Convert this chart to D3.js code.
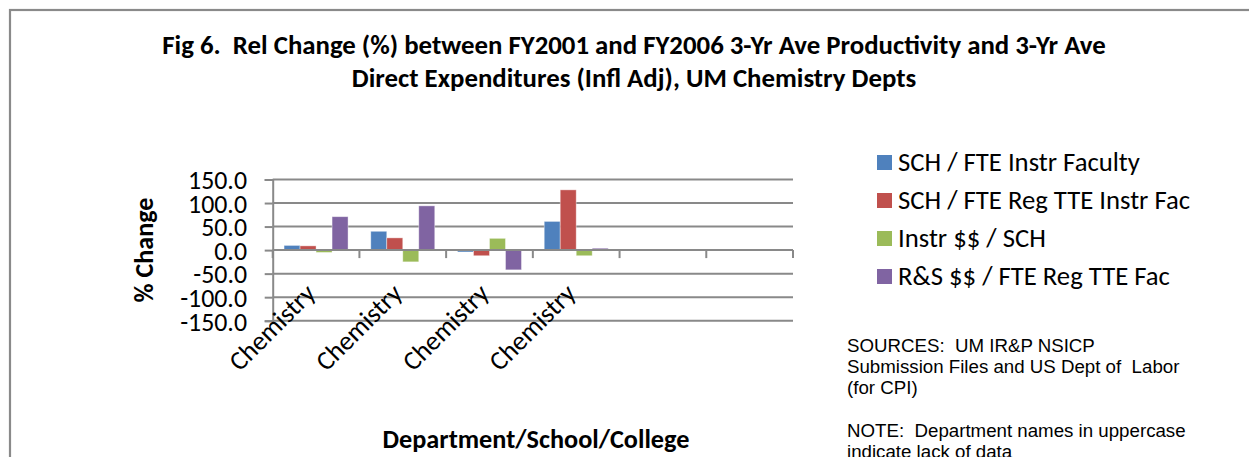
<!DOCTYPE html>
<html>
<head>
<meta charset="utf-8">
<script src="https://cdn.jsdelivr.net/npm/d3@7"></script>
<style>
  html, body { margin: 0; padding: 0; background: #fff; overflow: hidden; }
  svg { display: block; }
</style>
</head>
<body>
<script>
// ---- Data ----
const categories = ["Chemistry", "Chemistry", "Chemistry", "Chemistry", "", ""];
const seriesNames = ["SCH / FTE Instr Faculty", "SCH / FTE Reg TTE Instr Fac", "Instr $$ / SCH", "R&S $$ / FTE Reg TTE Fac"];
const schPerFteInstr = [10, 40, -4, 61];
const schPerFteRegTte = [9, 26, -12, 128];
const instrPerSch = [-5, -25, 25, -12];
const rsPerFteRegTte = [71, 94, -42, 4];
const yTicks = [150, 100, 50, 0, -50, -100, -150];
const titleLines = ["Fig 6.  Rel Change (%) between FY2001 and FY2006 3-Yr Ave Productivity and 3-Yr Ave",
                    "Direct Expenditures (Infl Adj), UM Chemistry Depts"];
const yAxisTitle = "% Change";
const xAxisTitle = "Department/School/College";
const noteLines = ["SOURCES:  UM IR&P NSICP", "Submission Files and US Dept of  Labor", "(for CPI)", "",
                   "NOTE:  Department names in uppercase", "indicate lack of data"];

const seriesValues = [schPerFteInstr, schPerFteRegTte, instrPerSch, rsPerFteRegTte];
const colors = ["#4F81BD", "#C0504D", "#9BBB59", "#8064A2"];

const W = 1249, H = 457;
const svg = d3.select("body").append("svg").attr("width", W).attr("height", H);

const calibri = "Carlito, Lato, 'Open Sans', sans-serif";
const arial = "'Liberation Sans', Arial, sans-serif";

function fitWidth(sel, target) {
  const node = sel.node();
  const fs = parseFloat(sel.attr("font-size"));
  const w = node.getComputedTextLength();
  if (w > 0) sel.attr("font-size", fs * target / w);
  return parseFloat(sel.attr("font-size"));
}

// Outer frame
svg.append("rect").attr("x", 10).attr("y", 10).attr("width", 1400).attr("height", 600)
  .attr("fill", "none").attr("stroke", "#8a8a8a").attr("stroke-width", 2.2);

// Title
const t1 = svg.append("text").attr("x", 634).attr("y", 54).attr("text-anchor", "middle")
  .attr("font-family", calibri).attr("font-weight", "bold").attr("font-size", 20)
  .style("white-space", "pre").attr("fill", "#000").text(titleLines[0]);
const tfs = fitWidth(t1, 944);
svg.append("text").attr("x", 634).attr("y", 86.5).attr("text-anchor", "middle")
  .attr("font-family", calibri).attr("font-weight", "bold").attr("font-size", tfs)
  .style("white-space", "pre").attr("fill", "#000").text(titleLines[1]);

// Scales
const plotLeft = 272.7, plotRight = 793;
const x = d3.scaleBand().domain(d3.range(categories.length)).range([plotLeft, plotRight]).paddingInner(0).paddingOuter(0);
const xs = d3.scaleBand().domain(d3.range(seriesNames.length)).range([0, x.bandwidth()]).paddingInner(0).paddingOuter(0.71);
const y = d3.scaleLinear().domain([-150, 150]).range([320.7, 179.5]);

const gridColor = "#898989";

// Gridlines
svg.append("g").selectAll("line").data(yTicks).join("line")
  .attr("x1", plotLeft).attr("x2", plotRight)
  .attr("y1", d => y(d)).attr("y2", d => y(d))
  .attr("stroke", gridColor).attr("stroke-width", 2);

// Y axis
const fmt = d => d3.format(".1f")(d).replace("\u2212", "-");
const yAxis = d3.axisLeft(y).tickValues(yTicks).tickSize(8).tickPadding(18).tickFormat(fmt);
const gy = svg.append("g").attr("transform", `translate(${plotLeft},0)`).call(yAxis);
gy.select(".domain").attr("stroke", gridColor).attr("stroke-width", 2);
gy.selectAll(".tick line").attr("stroke", gridColor).attr("stroke-width", 2);
gy.selectAll(".tick text").attr("font-family", calibri).attr("font-size", 22).attr("fill", "#000")
  .attr("dy", "0.36em");
let tickFs = 22;
{
  const tt = gy.selectAll(".tick text").filter(d => d === 150);
  const w = tt.node().getComputedTextLength();
  tickFs = 22 * 59 / w;
  gy.selectAll(".tick text").attr("font-size", tickFs);
}
gy.selectAll(".tick text").attr("x", 247 - plotLeft);

// Category axis at zero
const xAxis = d3.axisBottom(x).tickValues([]).tickSize(0);
const gx = svg.append("g").attr("transform", `translate(0,${y(0)})`).call(xAxis);
gx.select(".domain").remove();
const tickPos = d3.range(categories.length + 1).map(i => plotLeft + i * x.step());
gx.selectAll("line.ct").data(tickPos).join("line").attr("class", "ct")
  .attr("x1", d => d).attr("x2", d => d).attr("y1", 0).attr("y2", 8)
  .attr("stroke", gridColor).attr("stroke-width", 2);

// Bars
const gBars = svg.append("g");
seriesValues.forEach((vals, s) => {
  gBars.append("g").selectAll("rect").data(vals).join("rect")
    .attr("x", (d, i) => x(i) + xs(s))
    .attr("width", xs.bandwidth())
    .attr("y", d => y(Math.max(0, d)))
    .attr("height", d => Math.abs(y(d) - y(0)))
    .attr("fill", colors[s])
    .attr("stroke", "#ffffff").attr("stroke-opacity", 0.5).attr("stroke-width", 0.8);
});

// Zero line on top
svg.append("line").attr("x1", plotLeft).attr("x2", plotRight).attr("y1", y(0)).attr("y2", y(0))
  .attr("stroke", gridColor).attr("stroke-width", 2);

// Category labels
svg.append("g").selectAll("text").data(categories).join("text")
  .attr("transform", (d, i) => `translate(${x(i) + x.bandwidth() / 2 + 1},${295}) rotate(-45)`)
  .attr("text-anchor", "end").attr("font-family", calibri).attr("font-size", tickFs * 1.03)
  .attr("fill", "#000").text(d => d);

// Y axis title
const yt = svg.append("text").attr("transform", "translate(153,250) rotate(-90)")
  .attr("text-anchor", "middle").attr("font-family", calibri).attr("font-weight", "bold")
  .attr("font-size", 22).attr("fill", "#000").text(yAxisTitle);
fitWidth(yt, 105);

// X axis title
const xt = svg.append("text").attr("x", 536).attr("y", 448).attr("text-anchor", "middle")
  .attr("font-family", calibri).attr("font-weight", "bold").attr("font-size", 22)
  .attr("fill", "#000").text(xAxisTitle);
fitWidth(xt, 307);

// Legend
const legend = svg.append("g");
const legY = [155, 193, 231, 269];
seriesNames.forEach((name, i) => {
  legend.append("rect").attr("x", 877).attr("y", legY[i]).attr("width", 15).attr("height", 15)
    .attr("fill", colors[i]);
});
const legTexts = legend.selectAll("text.lt").data(seriesNames).join("text").attr("class", "lt")
  .attr("x", 898).attr("y", (d, i) => legY[i] + 15.5)
  .attr("font-family", calibri).attr("font-size", 24).attr("fill", "#000").text(d => d);
{
  const w = legTexts.filter((d, i) => i === 0).node().getComputedTextLength();
  legTexts.attr("font-size", 24 * 242 / w);
}

// Notes
const noteBase = [351.5, 372.5, 393.5, 415, 437, 458];
const notes = svg.append("g").selectAll("text").data(noteLines).join("text")
  .attr("x", 847).attr("y", (d, i) => noteBase[i])
  .attr("font-family", arial).attr("font-size", 18).attr("fill", "#000")
  .style("white-space", "pre").text(d => d);
{
  const w = notes.filter((d, i) => i === 0).node().getComputedTextLength();
  notes.attr("font-size", 18 * 248 / w);
}
</script>
</body>
</html>
